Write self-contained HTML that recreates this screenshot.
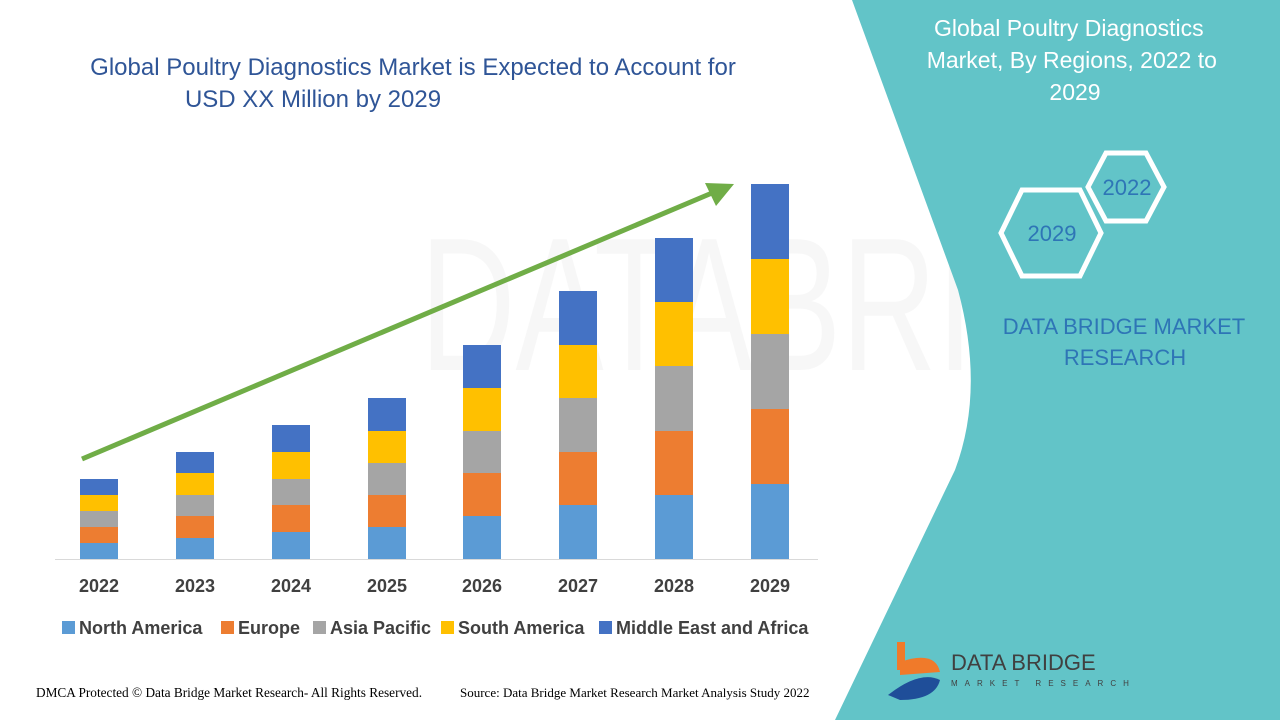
<!DOCTYPE html>
<html><head><meta charset="utf-8"><style>
body{margin:0;width:1280px;height:720px;overflow:hidden;background:#fff;font-family:"Liberation Sans",sans-serif}
</style></head><body>
<svg width="1280" height="720" viewBox="0 0 1280 720" xmlns="http://www.w3.org/2000/svg">
<rect width="1280" height="720" fill="#fff"/>
<g opacity="0.04" fill="#555" font-family="Liberation Sans" font-size="190">
<text x="420" y="370" textLength="840" lengthAdjust="spacingAndGlyphs">DATABRIDGE</text>
</g>
<path d="M852,0 L1280,0 L1280,720 L835,720 L955,470 Q985,390 958,290 Z" fill="#62c4c8"/>
<text font-family="Liberation Sans" font-size="23" fill="#fff" text-anchor="middle">
<tspan x="1072" y="36">Global Poultry Diagnostics</tspan>
<tspan x="1075" y="68">Market, By Regions, 2022 to</tspan>
<tspan x="1075" y="100">2029</tspan></text>
<polygon points="1088,187 1106,153 1146,153 1164,187 1146,221 1106,221" fill="none" stroke="#fff" stroke-width="5"/>
<polygon points="1001,233 1022,190 1080,190 1101,233 1080,276 1022,276" fill="none" stroke="#fff" stroke-width="5"/>
<text x="1127" y="195" font-size="22" fill="#2e75b6" text-anchor="middle">2022</text>
<text x="1052" y="241" font-size="22" fill="#2e75b6" text-anchor="middle">2029</text>
<text font-size="22" fill="#2e75b6" text-anchor="middle"><tspan x="1124" y="334">DATA BRIDGE MARKET</tspan><tspan x="1125" y="365">RESEARCH</tspan></text>
<rect x="897" y="642" width="8" height="28" fill="#f07a2a"/>
<path d="M900,662 Q935,650 940,672 L900,675Z" fill="#f07a2a"/>
<path d="M888,695 Q920,670 940,680 Q935,700 900,700Z" fill="#1f4e99"/>
<text x="951" y="670" font-size="22" fill="#404040">DATA BRIDGE</text>
<text x="951" y="686" font-size="8" fill="#404040" letter-spacing="7">MARKET RESEARCH</text>
<text font-size="24" fill="#2f5597" text-anchor="middle"><tspan x="413" y="75">Global Poultry Diagnostics Market is Expected to Account for</tspan><tspan x="313" y="107">USD XX Million by 2029</tspan></text>
<line x1="55" y1="559.5" x2="818" y2="559.5" stroke="#d9d9d9" stroke-width="1"/>
<g>
<rect x="80" y="543" width="38" height="16" fill="#5b9bd5"/><rect x="80" y="527" width="38" height="16" fill="#ed7d31"/><rect x="80" y="511" width="38" height="16" fill="#a5a5a5"/><rect x="80" y="495" width="38" height="16" fill="#ffc000"/><rect x="80" y="479" width="38" height="16" fill="#4472c4"/>
<rect x="176" y="538" width="38" height="21" fill="#5b9bd5"/><rect x="176" y="516" width="38" height="22" fill="#ed7d31"/><rect x="176" y="495" width="38" height="21" fill="#a5a5a5"/><rect x="176" y="473" width="38" height="22" fill="#ffc000"/><rect x="176" y="452" width="38" height="21" fill="#4472c4"/>
<rect x="272" y="532" width="38" height="27" fill="#5b9bd5"/><rect x="272" y="505" width="38" height="27" fill="#ed7d31"/><rect x="272" y="479" width="38" height="26" fill="#a5a5a5"/><rect x="272" y="452" width="38" height="27" fill="#ffc000"/><rect x="272" y="425" width="38" height="27" fill="#4472c4"/>
<rect x="368" y="527" width="38" height="32" fill="#5b9bd5"/><rect x="368" y="495" width="38" height="32" fill="#ed7d31"/><rect x="368" y="463" width="38" height="32" fill="#a5a5a5"/><rect x="368" y="431" width="38" height="32" fill="#ffc000"/><rect x="368" y="398" width="38" height="33" fill="#4472c4"/>
<rect x="463" y="516" width="38" height="43" fill="#5b9bd5"/><rect x="463" y="473" width="38" height="43" fill="#ed7d31"/><rect x="463" y="431" width="38" height="42" fill="#a5a5a5"/><rect x="463" y="388" width="38" height="43" fill="#ffc000"/><rect x="463" y="345" width="38" height="43" fill="#4472c4"/>
<rect x="559" y="505" width="38" height="54" fill="#5b9bd5"/><rect x="559" y="452" width="38" height="53" fill="#ed7d31"/><rect x="559" y="398" width="38" height="54" fill="#a5a5a5"/><rect x="559" y="345" width="38" height="53" fill="#ffc000"/><rect x="559" y="291" width="38" height="54" fill="#4472c4"/>
<rect x="655" y="495" width="38" height="64" fill="#5b9bd5"/><rect x="655" y="431" width="38" height="64" fill="#ed7d31"/><rect x="655" y="366" width="38" height="65" fill="#a5a5a5"/><rect x="655" y="302" width="38" height="64" fill="#ffc000"/><rect x="655" y="238" width="38" height="64" fill="#4472c4"/>
<rect x="751" y="484" width="38" height="75" fill="#5b9bd5"/><rect x="751" y="409" width="38" height="75" fill="#ed7d31"/><rect x="751" y="334" width="38" height="75" fill="#a5a5a5"/><rect x="751" y="259" width="38" height="75" fill="#ffc000"/><rect x="751" y="184" width="38" height="75" fill="#4472c4"/>
</g>
<line x1="82" y1="459" x2="712" y2="193" stroke="#70ad47" stroke-width="5"/>
<polygon points="734,184 705,183 716,206" fill="#70ad47"/>
<g font-size="18" font-weight="bold" fill="#404040" text-anchor="middle">
<text x="99" y="592">2022</text><text x="195" y="592">2023</text><text x="291" y="592">2024</text><text x="387" y="592">2025</text><text x="482" y="592">2026</text><text x="578" y="592">2027</text><text x="674" y="592">2028</text><text x="770" y="592">2029</text>
</g>
<g font-size="18" font-weight="bold" fill="#404040">
<rect x="62" y="621" width="13" height="13" fill="#5b9bd5"/><text x="79" y="634">North America</text>
<rect x="221" y="621" width="13" height="13" fill="#ed7d31"/><text x="238" y="634">Europe</text>
<rect x="313" y="621" width="13" height="13" fill="#a5a5a5"/><text x="330" y="634">Asia Pacific</text>
<rect x="441" y="621" width="13" height="13" fill="#ffc000"/><text x="458" y="634">South America</text>
<rect x="599" y="621" width="13" height="13" fill="#4472c4"/><text x="616" y="634">Middle East and Africa</text>
</g>
<text x="36" y="697" font-family="Liberation Serif" font-size="13.3" fill="#000">DMCA Protected © Data Bridge Market Research- All Rights Reserved.</text>
<text x="460" y="697" font-family="Liberation Serif" font-size="13" fill="#000">Source: Data Bridge Market Research Market Analysis Study 2022</text>
</svg>
</body></html>
